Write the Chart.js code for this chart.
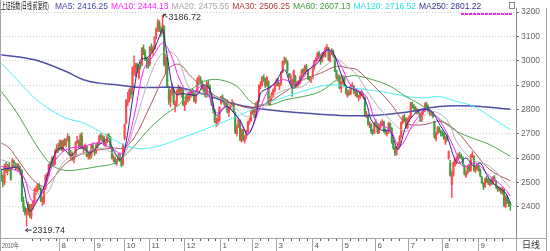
<!DOCTYPE html>
<html>
<head>
<meta charset="utf-8">
<script src="https://cdn.jsdelivr.net/npm/chart.js@4.4.1/dist/chart.umd.min.js"></script>
<style>
  html, body { margin: 0; padding: 0; background: #fff; }
  canvas { display: block; }
</style>
</head>
<body>
<canvas id="klineChart" width="550" height="251"></canvas>
<script>
// daily candles, one entry per trading day (2010-06-07 .. 2011-09-30)
const opens = [
  2545,2505,2498,2566,2545,2570,2552,2560,2585,2575,2556,2568,2548,2550,2425,
  2395,2370,2375,2405,2360,2400,2418,2468,2470,2488,2475,2420,2418,2478,2525,2530,2575,2570,2598,2575,2628,2640,
  2640,2668,2632,2668,2655,2675,2685,2605,2618,2595,2608,2665,2668,2648,2690,2638,2642,2648,2605,2612,2608,2652,
  2635,2625,2658,2660,2690,2678,2682,2652,2668,2692,2685,2640,2596,2596,2578,2592,2612,2590,2575,
  2680,2745,2830,2842,2880,2865,2975,2960,2985,2930,2980,2985,3050,3035,3005,3002,
  2985,3055,3040,3050,3100,3130,3155,3128,3115,3140,2975,3010,2880,2830,2870,2880,2815,2825,2870,2885,2865,2880,
  2815,2830,2852,2845,2862,2878,2862,2832,2870,2925,2925,2912,2880,2892,2858,2905,2895,2862,2818,2795,2745,2752,2758,
  2825,2850,2838,2820,2835,2788,2808,2825,2825,2785,2700,2730,2755,2672,2712,2672,2690,2712,2750,2755,
  2792,2800,2770,2815,2835,2895,2902,2930,2922,2900,2915,2820,2850,2860,2878,
  2905,2920,2895,2905,2955,2995,3005,2995,2945,2925,2920,2900,2935,2900,2902,2912,2935,2962,2952,2975,2960,2928,2920,
  2930,2970,2998,3005,3030,3020,2998,3032,3020,3050,3050,3000,3035,3040,3018,2958,2928,2935,2885,
  2915,2930,2895,2855,2870,2865,2898,2895,2868,2870,2848,2852,2872,2858,2850,2770,2775,2735,2738,2708,2705,
  2745,2738,2705,2730,2740,2748,2708,2700,2708,2740,2720,2665,2640,2615,2645,2655,2690,2748,2768,2760,2725,
  2760,2770,2825,2810,2805,2792,2795,2780,2755,2790,2798,2822,2812,2795,2782,2790,2750,2680,2702,2722,2708,
  2705,2700,2665,2685,2600,2580,2490,2530,2575,2590,2598,2612,2605,2600,2570,2525,2540,2568,2550,2610,2605,2550,2555,
  2565,2550,2520,2495,2482,2515,2508,2490,2508,2495,2518,2505,2478,2468,2472,2455,2470,2400,2438,2418,2412
];
const highs = [
  2555,2530,2575,2582,2575,2580,2560,2600,2592,2580,2578,2575,2565,2552,2440,
  2400,2392,2420,2410,2410,2425,2475,2485,2495,2495,2478,2440,2480,2532,2540,2575,2585,2605,2605,2635,2655,2660,
  2675,2672,2675,2680,2680,2700,2690,2632,2625,2612,2668,2690,2675,2700,2705,2650,2658,2652,2625,2625,2656,2662,
  2640,2660,2665,2695,2700,2695,2690,2670,2698,2702,2690,2645,2612,2605,2595,2618,2620,2595,2658,
  2740,2840,2870,2885,2890,2975,3020,2990,2990,2980,2995,3055,3065,3045,3015,3010,
  3060,3070,3060,3100,3135,3170,3165,3140,3186.72,3145,3025,3015,2895,2880,2905,2885,2835,2880,2900,2895,2890,2885,
  2835,2858,2860,2870,2885,2885,2868,2865,2930,2940,2935,2918,2902,2895,2915,2920,2900,2868,2825,2800,2765,2770,2812,
  2855,2860,2845,2842,2840,2810,2828,2840,2830,2790,2735,2765,2758,2720,2718,2692,2715,2752,2765,2795,
  2805,2810,2828,2835,2902,2915,2935,2942,2928,2935,2918,2855,2870,2885,2910,
  2925,2928,2910,2955,3000,3015,3012,3000,2948,2945,2925,2962,2940,2915,2920,2938,2965,2968,2982,2985,2965,2935,2935,
  2970,3002,3015,3035,3040,3025,3035,3040,3055,3067,3055,3038,3050,3045,3020,2962,2945,2940,2915,
  2940,2935,2900,2880,2880,2900,2910,2898,2880,2878,2858,2875,2878,2868,2852,2792,2780,2750,2742,2718,2748,
  2758,2740,2735,2750,2758,2752,2720,2712,2748,2745,2725,2672,2648,2648,2665,2692,2750,2775,2780,2765,2765,
  2775,2830,2830,2820,2812,2805,2800,2785,2792,2805,2828,2830,2818,2800,2795,2792,2752,2705,2730,2728,2715,
  2712,2705,2690,2695,2630,2590,2545,2585,2600,2605,2620,2625,2615,2605,2572,2545,2570,2575,2615,2625,2610,2565,2575,
  2570,2555,2525,2500,2518,2525,2515,2512,2515,2525,2528,2508,2485,2480,2478,2480,2472,2445,2445,2425,2418
];
const lows = [
  2505,2481,2490,2540,2530,2548,2508,2555,2565,2552,2550,2545,2530,2420,2380,
  2365,2319.74,2365,2355,2350,2390,2410,2450,2460,2470,2420,2405,2410,2470,2505,2525,2560,2565,2565,2572,2620,2622,
  2632,2630,2625,2650,2645,2670,2612,2590,2590,2580,2605,2660,2640,2640,2638,2615,2630,2605,2595,2595,2600,2630,
  2610,2618,2640,2655,2672,2668,2650,2645,2662,2680,2640,2595,2585,2575,2570,2590,2585,2565,2570,
  2675,2740,2815,2830,2845,2860,2940,2935,2950,2925,2965,2980,3025,3000,2970,2970,
  2980,3035,3020,3045,3090,3120,3120,3100,3110,2980,2945,2890,2820,2810,2860,2820,2790,2815,2860,2860,2850,2815,
  2795,2820,2830,2835,2850,2855,2830,2825,2865,2910,2905,2880,2870,2850,2850,2885,2860,2815,2785,2745,2730,2735,2750,
  2820,2830,2815,2810,2785,2770,2800,2815,2785,2700,2690,2725,2670,2665,2670,2661,2680,2708,2738,2750,
  2780,2765,2765,2800,2830,2885,2895,2915,2890,2895,2820,2815,2838,2850,2870,
  2895,2895,2880,2900,2950,2985,2990,2950,2930,2905,2853,2895,2890,2890,2895,2905,2930,2945,2945,2955,2922,2915,2910,
  2925,2965,2990,3000,3010,2985,2995,3015,3015,3040,3000,2995,3025,3015,2955,2925,2915,2885,2870,
  2905,2895,2862,2850,2858,2860,2890,2865,2855,2850,2835,2845,2855,2845,2770,2765,2735,2725,2700,2695,2700,
  2728,2700,2700,2722,2735,2705,2698,2690,2700,2718,2660,2635,2610,2612,2635,2650,2685,2740,2752,2722,2720,
  2750,2765,2805,2795,2785,2780,2780,2750,2750,2780,2790,2805,2790,2775,2775,2765,2680,2670,2698,2705,2690,
  2690,2675,2655,2670,2595,2525,2437,2525,2565,2575,2590,2600,2595,2570,2530,2520,2535,2545,2545,2600,2545,2540,2550,
  2545,2522,2495,2470,2478,2500,2490,2485,2490,2490,2505,2475,2462,2465,2455,2450,2400,2395,2412,2400,2385
];
const closes = [
  2512,2500,2568,2549,2569,2556,2514,2588,2577,2562,2572,2552,2554,2427,2398,
  2373,2382,2409,2364,2403,2415,2470,2472,2490,2480,2424,2424,2476,2528,2528,2573,2572,2600,2573,2630,2640,2637,
  2672,2639,2670,2661,2673,2690,2616,2620,2600,2605,2664,2670,2650,2694,2642,2640,2651,2610,2611,2611,2653,2638,
  2622,2655,2655,2690,2680,2685,2656,2663,2690,2688,2645,2600,2598,2580,2588,2610,2592,2570,2655,
  2738,2836,2841,2879,2862,2972,2975,2983,2962,2977,2975,3051,3040,3009,3000,2979,
  3054,3043,3047,3096,3129,3160,3135,3115,3147,2985,3014,2894,2838,2875,2888,2828,2824,2875,2880,2871,2885,2820,
  2829,2850,2842,2863,2875,2865,2836,2861,2925,2928,2915,2884,2896,2855,2910,2897,2865,2820,2800,2750,2749,2760,2808,
  2852,2839,2824,2838,2791,2805,2821,2828,2791,2707,2728,2756,2677,2715,2677,2687,2708,2749,2752,2790,
  2798,2774,2823,2827,2899,2900,2932,2926,2899,2932,2826,2849,2862,2880,2905,
  2918,2900,2900,2950,2996,3000,3000,2958,2937,2938,2896,2960,2897,2906,2914,2934,2960,2955,2977,2963,2928,2925,2928,
  2967,2999,3007,3030,3022,2996,3030,3021,3050,3057,3007,3033,3040,3021,2960,2932,2933,2890,2911,
  2932,2900,2868,2872,2864,2895,2900,2870,2871,2853,2850,2870,2860,2858,2774,2778,2740,2740,2709,2706,2743,
  2740,2706,2728,2742,2749,2710,2705,2705,2743,2723,2666,2642,2621,2644,2658,2689,2746,2770,2762,2728,2762,
  2767,2826,2814,2808,2795,2798,2787,2754,2788,2796,2820,2814,2795,2785,2788,2770,2688,2700,2725,2710,2701,
  2704,2680,2680,2680,2626,2527,2526,2581,2592,2593,2612,2608,2602,2577,2534,2535,2565,2552,2612,2612,2551,2556,2567,
  2553,2528,2500,2484,2514,2510,2497,2509,2498,2520,2511,2480,2470,2475,2460,2475,2405,2440,2420,2410,2405
];

// moving averages: [day index, value]
const ma5 = [[0,2552],[6,2559],[11,2560],[14,2490],[18,2381],[22,2415],[27,2483],[31,2566],[35,2630],[39,2640],[44,2610],[48,2634],[52,2641],[56,2620],[62,2655],[67,2675],[72,2620],[75,2593],[78,2630],[84,2881],[88,3004],[92,3011],[96,3040],[100,3100],[102,3130],[104,3060],[106,2976],[108,2902],[111,2860],[114,2865],[120,2860],[124,2860],[128,2901],[132,2880],[136,2775],[140,2799],[143,2812],[149,2771],[152,2744],[156,2696],[161,2771],[164,2867],[169,2888],[173,2908],[179,2963],[184,2888],[188,2908],[193,2956],[200,2990],[206,3045],[210,3032],[214,2963],[218,2895],[221,2888],[227,2867],[231,2826],[234,2757],[240,2716],[246,2710],[251,2635],[256,2730],[262,2785],[267,2799],[272,2792],[278,2730],[282,2689],[287,2593],[290,2579],[294,2600],[299,2566],[303,2579],[307,2532],[311,2497],[315,2477],[319,2456],[322,2416]];
const ma10 = [[0,2566],[8,2552],[14,2525],[20,2420],[27,2470],[33,2579],[41,2634],[52,2648],[62,2662],[71,2634],[77,2620],[84,2771],[90,2963],[96,3018],[102,3073],[107,3030],[113,2920],[119,2867],[128,2895],[136,2785],[142,2812],[149,2771],[156,2703],[164,2812],[170,2888],[178,2922],[187,2908],[195,2963],[206,3045],[214,2990],[221,2900],[231,2853],[237,2750],[246,2716],[252,2648],[261,2744],[269,2799],[277,2757],[286,2648],[292,2566],[300,2579],[309,2525],[317,2484],[322,2444]];
const ma20 = [[0,2593],[10,2566],[16,2497],[22,2456],[29,2456],[35,2538],[41,2593],[52,2620],[62,2641],[71,2620],[77,2607],[84,2730],[94,2936],[102,3032],[109,3030],[113,2990],[119,2888],[128,2860],[138,2847],[149,2799],[155,2771],[164,2799],[170,2847],[180,2881],[191,2895],[202,2963],[212,3004],[220,2970],[225,2942],[235,2840],[246,2757],[256,2710],[267,2771],[273,2792],[282,2757],[288,2668],[298,2593],[309,2566],[322,2476]];
const ma30 = [[0,2662],[5,2641],[12,2579],[20,2511],[27,2483],[33,2518],[41,2579],[52,2620],[62,2634],[71,2641],[77,2641],[84,2682],[94,2812],[105,2960],[110,2985],[114,2980],[119,2942],[128,2888],[138,2847],[149,2819],[159,2805],[170,2833],[180,2874],[191,2922],[202,2949],[212,2977],[220,2970],[225,2963],[235,2901],[246,2826],[256,2744],[267,2737],[278,2751],[288,2710],[298,2634],[309,2552],[322,2506]];
const ma60 = [[0,2874],[10,2785],[20,2675],[27,2607],[33,2566],[41,2549],[52,2555],[62,2566],[69,2573],[75,2593],[84,2648],[94,2723],[105,2785],[113,2822],[119,2874],[128,2915],[138,2922],[149,2895],[159,2826],[170,2819],[180,2840],[191,2853],[202,2874],[212,2920],[220,2936],[225,2938],[235,2922],[246,2895],[256,2853],[267,2812],[278,2757],[288,2710],[298,2682],[309,2655],[322,2607]];
const ma120 = [[0,2990],[10,2922],[20,2853],[31,2799],[41,2764],[52,2744],[62,2710],[73,2668],[84,2641],[94,2641],[105,2660],[113,2680],[128,2716],[149,2771],[159,2800],[170,2830],[191,2875],[202,2895],[212,2901],[220,2890],[235,2878],[246,2867],[256,2853],[267,2847],[277,2853],[288,2833],[299,2812],[309,2771],[322,2716]];
const ma250 = [[0,3025],[21,3004],[41,2956],[52,2922],[62,2908],[73,2901],[84,2892],[94,2890],[113,2889],[128,2862],[149,2820],[170,2797],[191,2785],[214,2775],[235,2775],[256,2788],[277,2812],[298,2814],[322,2801]];

const yTicks = [2400, 2500, 2600, 2700, 2800, 2900, 3000, 3100, 3200];
// first trading day of each month and its label
const monthStarts = [[15,''],[37,'8'],[59,'9'],[78,'10'],[94,'11'],[116,'12'],[139,'1'],[159,'2'],[174,'3'],[197,'4'],[216,'5'],[237,'6'],[258,'7'],[279,'8'],[302,'9']];
const headerItems = [
  ['MA5: 2416.25', '#4646b0'],
  ['MA10: 2444.13', '#ff22ff'],
  ['MA20: 2475.55', '#a8a8a8'],
  ['MA30: 2506.25', '#a83a3a'],
  ['MA60: 2607.13', '#3c9c3c'],
  ['MA120: 2716.52', '#22dede'],
  ['MA250: 2801.22', '#34348e']
];
const highMark = [102, 3186.72];
const lowMark = [16, 2319.74];

const upColor = '#ff4a4a';
const downColor = '#3f9f3f';
const n = Math.min(opens.length, highs.length, lows.length, closes.length);
const candleColors = [];
const wickData = [];
const bodyData = [];
for (let i = 0; i < n; i++) {
  candleColors.push(closes[i] >= opens[i] ? upColor : downColor);
  wickData.push({ x: i, y: [lows[i], highs[i]] });
  bodyData.push({ x: i, y: [opens[i], closes[i]] });
}

function maLine(label, points, color, width, order) {
  return {
    type: 'line',
    label: label,
    order: order,
    data: points.map(p => ({ x: p[0], y: p[1] })),
    borderColor: color,
    borderWidth: width,
    pointRadius: 0,
    tension: 0.35,
    fill: false
  };
}

const font = 'Liberation Sans, Arial, sans-serif';

const decorations = {
  id: 'decorations',
  beforeDraw(chart) {
    const ctx = chart.ctx;
    ctx.save();
    ctx.fillStyle = '#fff';
    ctx.fillRect(0, 0, chart.width, chart.height);
    ctx.restore();
  },
  afterDraw(chart) {
    const { ctx, chartArea: area, scales: { x, y } } = chart;
    ctx.save();

    // frame lines
    ctx.strokeStyle = '#a6a6a6';
    ctx.lineWidth = 1;
    ctx.beginPath();
    ctx.moveTo(0.5, 0); ctx.lineTo(0.5, 251);
    ctx.moveTo(0, area.bottom + 0.5); ctx.lineTo(547, area.bottom + 0.5);
    ctx.moveTo(546.5, 8); ctx.lineTo(546.5, 251);
    ctx.moveTo(516.5, area.bottom); ctx.lineTo(516.5, 251);
    ctx.stroke();

    // date strip
    const top = area.bottom;
    ctx.font = '8px ' + font;
    ctx.fillStyle = '#555';
    ctx.textBaseline = 'alphabetic';
    ctx.fillText('2010年', 2, top + 10, 17);
    monthStarts.forEach((m, k) => {
      const next = k + 1 < monthStarts.length ? monthStarts[k + 1][0] : n;
      const sx = Math.round(x.getPixelForValue(m[0] - 0.5)) + 0.5;
      if (m[1]) {
        ctx.strokeStyle = '#a6a6a6';
        ctx.beginPath(); ctx.moveTo(sx, top); ctx.lineTo(sx, 251); ctx.stroke();
        ctx.fillText(m[1], sx + 2, top + 10);
      }
      ctx.strokeStyle = '#555';
      for (let d = m[0] + 5; d < next - 1; d += 5) {
        const tx = Math.round(x.getPixelForValue(d - 0.5)) + 0.5;
        ctx.beginPath(); ctx.moveTo(tx, top + 1); ctx.lineTo(tx, top + 3); ctx.stroke();
      }
    });
    ctx.fillStyle = '#333';
    ctx.font = '9px Noto Sans CJK SC';
    ctx.fillText('日线', 522, top + 10);

    // header
    ctx.font = '9px Noto Sans CJK SC';
    ctx.fillStyle = '#111';
    ctx.fillText('上证指数(日线 前复权)', 1, 9, 48);
    ctx.font = '8.5px ' + font;
    let hx = 55;
    headerItems.forEach(item => {
      ctx.fillStyle = item[1];
      ctx.fillText(item[0], hx, 9);
      hx += ctx.measureText(item[0]).width + 3;
    });
    ctx.strokeStyle = '#ff22ff';
    ctx.lineWidth = 2;
    ctx.setLineDash([3, 1]);
    ctx.beginPath(); ctx.moveTo(461, 14); ctx.lineTo(512, 14); ctx.stroke();
    ctx.setLineDash([]);
    ctx.lineWidth = 1;
    ctx.strokeStyle = '#8a8a8a';
    ctx.strokeRect(509.5, 2.5, 5, 6);

    // extreme price notes
    ctx.strokeStyle = '#333';
    ctx.fillStyle = '#333';
    ctx.font = '9px ' + font;
    ctx.textBaseline = 'middle';
    const hx0 = x.getPixelForValue(highMark[0]);
    const hy0 = y.getPixelForValue(highMark[1]);
    ctx.beginPath();
    ctx.moveTo(hx0 + 5, hy0 + 2); ctx.lineTo(hx0 + 1, hy0 - 1);
    ctx.moveTo(hx0 + 1, hy0 - 1); ctx.lineTo(hx0 + 1, hy0 + 2);
    ctx.moveTo(hx0 + 1, hy0 - 1); ctx.lineTo(hx0 + 4, hy0 - 1);
    ctx.stroke();
    ctx.fillText(highMark[1].toFixed(2), hx0 + 6, hy0 + 2);
    const lx0 = x.getPixelForValue(lowMark[0]);
    const ly0 = y.getPixelForValue(lowMark[1]) + 4;
    ctx.beginPath();
    ctx.moveTo(lx0 - 1, ly0); ctx.lineTo(lx0 + 5, ly0);
    ctx.moveTo(lx0 - 1, ly0); ctx.lineTo(lx0 + 1.5, ly0 - 2);
    ctx.moveTo(lx0 - 1, ly0); ctx.lineTo(lx0 + 1.5, ly0 + 2);
    ctx.stroke();
    ctx.fillText(lowMark[1].toFixed(2), lx0 + 6, ly0);

    ctx.restore();
  }
};

new Chart(document.getElementById('klineChart'), {
  type: 'bar',
  data: {
    datasets: [
      maLine('MA5', ma5, '#2a2a96', 1, 1),
      maLine('MA10', ma10, '#ff22ff', 1, 2),
      maLine('MA20', ma20, '#b4b4b4', 1, 3),
      maLine('MA30', ma30, '#b05a5a', 1, 4),
      maLine('MA60', ma60, '#4ea64e', 1, 5),
      maLine('MA120', ma120, '#4cf2f2', 1, 6),
      maLine('MA250', ma250, '#4f4fa6', 1.5, 7),
      {
        label: 'wick',
        order: 9,
        data: wickData,
        backgroundColor: candleColors,
        barThickness: 0.8,
        grouped: false,
        borderWidth: 0
      },
      {
        label: 'body',
        order: 8,
        data: bodyData,
        backgroundColor: candleColors,
        barThickness: 1.4,
        minBarLength: 1,
        grouped: false,
        borderWidth: 0
      }
    ]
  },
  options: {
    responsive: false,
    animation: false,
    devicePixelRatio: 1,
    layout: { padding: { top: 8, bottom: 13, left: 0, right: 0 } },
    plugins: { legend: { display: false }, tooltip: { enabled: false } },
    scales: {
      x: { type: 'linear', min: -0.82, max: 325.6, offset: false, display: false },
      y: {
        position: 'right',
        min: 2271,
        max: 3217,
        afterBuildTicks: s => { s.ticks = yTicks.map(v => ({ value: v })); },
        afterFit: s => { s.width = 34; },
        grid: { color: '#cdcdcd', tickColor: '#666', tickLength: 3 },
        border: { color: '#8c8c8c', dash: [1, 2] },
        ticks: {
          color: '#666',
          padding: 2,
          font: { family: 'Liberation Sans', size: 8.5 },
          callback: v => String(v)
        }
      }
    }
  },
  plugins: [decorations]
});
</script>
</body>
</html>
